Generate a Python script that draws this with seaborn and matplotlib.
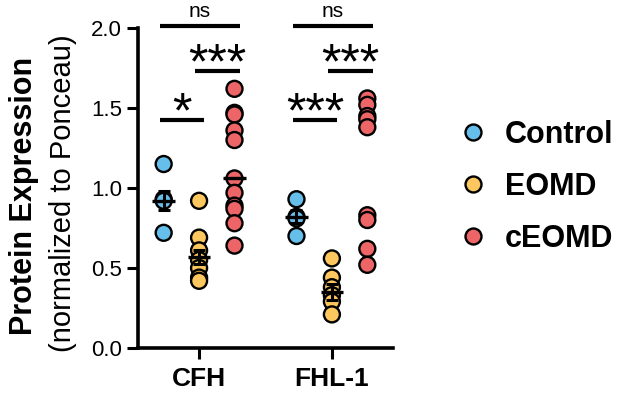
import numpy as np
import pandas as pd
import seaborn as sns
import matplotlib.pyplot as plt
from matplotlib.lines import Line2D

proteins = ['CFH', 'FHL-1']
groups = ['Control', 'EOMD', 'cEOMD']
palette = ['#66BFEB', '#FDC760', '#EE6567']

# values
cfh_control = [1.15, 0.93, 0.92, 0.72]
cfh_eomd = [0.92, 0.69, 0.61, 0.55, 0.50, 0.44, 0.42]
cfh_ceomd = [1.62, 1.47, 1.46, 1.36, 1.30, 1.06, 0.97, 0.89, 0.87, 0.78, 0.64]
fhl_control = [0.93, 0.82, 0.81, 0.70]
fhl_eomd = [0.56, 0.44, 0.38, 0.33, 0.29, 0.21]
fhl_ceomd = [1.56, 1.52, 1.45, 1.43, 1.38, 0.83, 0.80, 0.62, 0.52]

# mean +/- sem bars as drawn (none visible for FHL-1 cEOMD)
cfh_means = [0.92, 0.57, 1.06]
cfh_sems = [0.06, 0.045, 0.0]
fhl_means = [0.82, 0.35, np.nan]
fhl_sems = [0.04, 0.05, np.nan]

# significance: protein index, group a, group b, bar height, label
sig_protein = [0, 0, 0, 1, 1, 1]
sig_a = [0, 0, 1, 0, 0, 1]
sig_b = [2, 1, 2, 2, 1, 2]
sig_y = [2.01, 1.425, 1.73, 2.01, 1.425, 1.73]
sig_text = ['ns', '*', '***', 'ns', '***', '***']

values = {
    ('CFH', 'Control'): cfh_control, ('CFH', 'EOMD'): cfh_eomd, ('CFH', 'cEOMD'): cfh_ceomd,
    ('FHL-1', 'Control'): fhl_control, ('FHL-1', 'EOMD'): fhl_eomd, ('FHL-1', 'cEOMD'): fhl_ceomd,
}
df = pd.DataFrame([(p, g, v) for (p, g), vs in values.items() for v in vs],
                  columns=['protein', 'group', 'value'])

sns.set_theme(style='ticks')
plt.rcParams['font.family'] = ['Liberation Sans', 'DejaVu Sans']
plt.rcParams.update({'text.color': 'black', 'axes.labelcolor': 'black',
                     'xtick.color': 'black', 'ytick.color': 'black'})

fig = plt.figure(figsize=(6.35, 3.95), dpi=100)
ax = fig.add_axes([0.2173, 0.119, 0.4016, 0.810])

sns.stripplot(data=df, x='protein', y='value', hue='group', order=proteins, hue_order=groups,
              palette=palette, dodge=True, jitter=False, size=11.5, edgecolor='black',
              linewidth=1.7, legend=False, ax=ax, zorder=3)

offsets = np.array([-1, 0, 1]) * 0.8 / 3
for i, (means, sems) in enumerate([(cfh_means, cfh_sems), (fhl_means, fhl_sems)]):
    for j in range(3):
        if np.isnan(means[j]):
            continue
        x = i + offsets[j]
        ax.hlines(means[j], x - 0.085, x + 0.085, color='black', lw=2.4, zorder=5)
        if sems[j] > 0:
            ax.errorbar(x, means[j], yerr=sems[j], color='black', elinewidth=2.2,
                        capsize=4.5, capthick=2.2, zorder=5)

for p, a, b, y, t in zip(sig_protein, sig_a, sig_b, sig_y, sig_text):
    x0 = p + offsets[a] - 0.03
    x1 = p + offsets[b] + 0.04
    ax.plot([x0, x1], [y, y], color='black', lw=3, solid_capstyle='butt', clip_on=False, zorder=6)
    if t == 'ns':
        ax.annotate(t, ((x0 + x1) / 2, y), xytext=(0, 6.5), textcoords='offset points',
                    ha='center', va='baseline', fontsize=15, annotation_clip=False)
    else:
        ax.annotate(t, ((x0 + x1) / 2, y), xytext=(0, -5.5), textcoords='offset points',
                    ha='center', va='baseline', fontsize=36, annotation_clip=False)

ax.set_xlim(-0.46, 1.46)
ax.set_ylim(0, 2.0)
ax.set_yticks([0, 0.5, 1.0, 1.5, 2.0])
ax.set_yticklabels(['0.0', '0.5', '1.0', '1.5', '2.0'])
ax.set_xlabel('')
ax.set_ylabel('')
for lab in ax.get_xticklabels():
    lab.set_fontweight('bold')
    lab.set_fontsize(19)
ax.tick_params(axis='y', labelsize=16, width=2.2, length=8)
ax.tick_params(axis='x', width=2.2, length=8, pad=6)
sns.despine(ax=ax)
for side in ['left', 'bottom']:
    ax.spines[side].set_linewidth(2.6)
    ax.spines[side].set_color('black')

fig.text(0.038, 0.505, 'Protein Expression', rotation=90, ha='center', va='center',
         fontsize=22, fontweight='bold')
fig.text(0.099, 0.511, '(normalized to Ponceau)', rotation=90, ha='center', va='center',
         fontsize=21)

handles = [Line2D([], [], marker='o', ls='', markerfacecolor=c, markeredgecolor='black',
                  markersize=11.5, markeredgewidth=1.7) for c in palette]
fig.legend(handles, groups, loc='center left', bbox_to_anchor=(0.7205, 0.527), frameon=False,
           prop={'weight': 'bold', 'size': 22}, handlelength=1.0, handletextpad=0.55,
           labelspacing=0.72, borderpad=0, borderaxespad=0)

fig.savefig('out.png', dpi=100)
